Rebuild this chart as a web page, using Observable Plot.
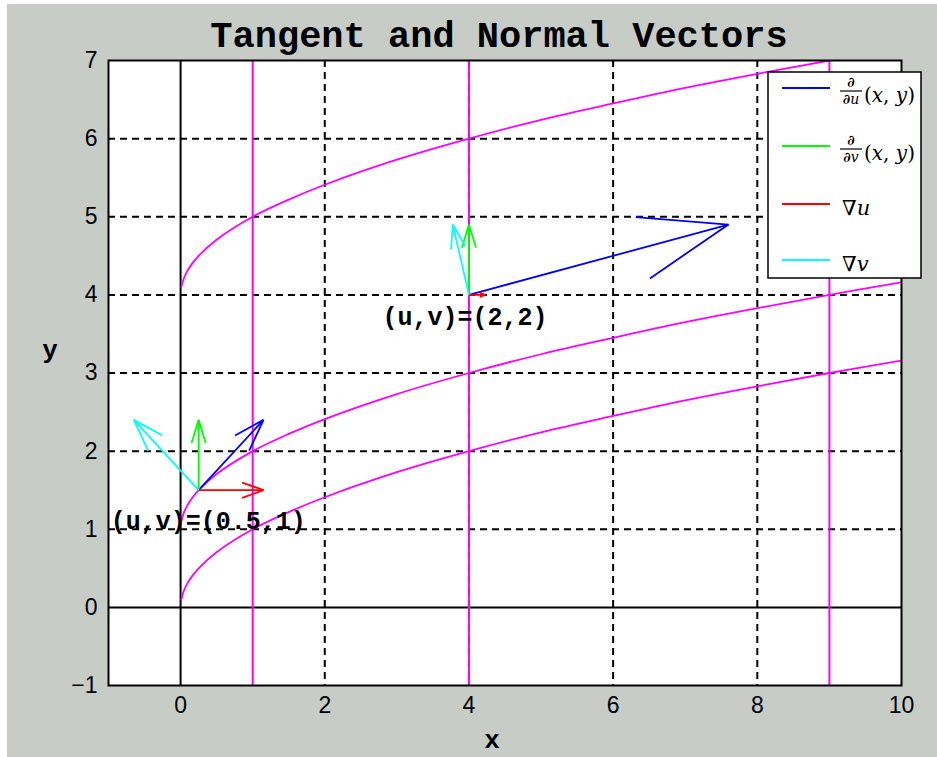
<!DOCTYPE html>
<html><head><meta charset="utf-8">
<script src="https://cdn.jsdelivr.net/npm/d3@7"></script>
<script src="https://cdn.jsdelivr.net/npm/@observablehq/plot@0.6"></script>
<style>
body{margin:0;background:#fff;} svg{display:block;}
</style>
</head><body><div id="chart"></div>
<script>
// ---- data ----
const titleText = "Tangent and Normal Vectors";
const xLabel = "x";
const yLabel = "y";
const xTicks = [0, 2, 4, 6, 8, 10];
const yTicks = [-1, 0, 1, 2, 3, 4, 5, 6, 7];
const gridX = [2, 4, 6, 8];
const gridY = [1, 2, 3, 4, 5, 6];
const zeroX = [0];
const zeroY = [0];
// constant-v curves (x, sqrt-part) and their offsets
const curveX =    [0.01, 0.04, 0.09, 0.16, 0.25, 0.49, 1, 1.5, 2, 3, 4, 5, 6, 7, 8, 9, 10];
const curveBase = [0.1, 0.2, 0.3, 0.4, 0.5, 0.7, 1, 1.22, 1.41, 1.73, 2, 2.24, 2.45, 2.65, 2.83, 3, 3.16];
const curveV = [0, 1, 4];
// constant-u lines
const uLinesX = [1, 4, 9];
// base points of the vectors
const baseX = [0.25, 4];
const baseY = [1.5, 4];
// vectors at each base point: d/du, d/dv, grad u, grad v
const vecNames = ["du", "dv", "gradu", "gradv"];
const vecColors = ["#0000ff", "#00ff00", "#ff0000", "#00ffff"];
const vecU = [[1, 0, 1, -1], [4, 0, 0.25, -0.25]];
const vecV = [[1, 1, 0, 1], [1, 1, 0, 1]];
const quiverScale = 0.9;
const headAlpha = 0.33, headBeta = 0.33;
// point labels
const pointLabels = ["(u,v)=(0.5,1)", "(u,v)=(2,2)"];
const labelX = [-0.97, 2.8];
const labelY = [1.1, 3.72];

// ---- build tables ----
const curves = [];
curveV.forEach(v => curveX.forEach((x, i) => curves.push({x, y: curveBase[i] + v, v})));

const segs = [];
baseX.forEach((bx, p) => {
  const by = baseY[p];
  vecNames.forEach((n, k) => {
    const u = vecU[p][k] * quiverScale, v = vecV[p][k] * quiverScale;
    const tx = bx + u, ty = by + v;
    const c = vecColors[k];
    segs.push({x1: bx, y1: by, x2: tx, y2: ty, c});
    segs.push({x1: tx - headAlpha * (u + headBeta * v), y1: ty - headAlpha * (v - headBeta * u), x2: tx, y2: ty, c});
    segs.push({x1: tx - headAlpha * (u - headBeta * v), y1: ty - headAlpha * (v + headBeta * u), x2: tx, y2: ty, c});
  });
});
const labels = pointLabels.map((t, i) => ({t, x: labelX[i], y: labelY[i]}));

const W = 937, H = 757;
const minus = d => d < 0 ? "\u2212" + (-d) : String(d);
const chart = Plot.plot({
  width: W, height: H,
  marginLeft: 108, marginRight: 36, marginTop: 60, marginBottom: 72,
  x: {domain: [-1, 10]},
  y: {domain: [-1, 7]},
  style: {fontFamily: "'Liberation Sans', Arial, sans-serif", fontSize: "23px", background: "transparent", color: "#000"},
  marks: [
    Plot.frame({fill: "white", stroke: null}),
    Plot.ruleX(gridX, {stroke: "#000", strokeWidth: 2, strokeDasharray: "7,5"}),
    Plot.ruleY(gridY, {stroke: "#000", strokeWidth: 2, strokeDasharray: "7,5"}),
    Plot.ruleX(zeroX, {stroke: "#000", strokeWidth: 2}),
    Plot.ruleY(zeroY, {stroke: "#000", strokeWidth: 2}),
    Plot.ruleX(uLinesX, {stroke: "#ff00ff", strokeWidth: 2}),
    Plot.line(curves, {x: "x", y: "y", z: "v", stroke: "#ff00ff", strokeWidth: 1.8, curve: "catmull-rom", clip: true}),
    Plot.link(segs, {x1: "x1", y1: "y1", x2: "x2", y2: "y2", stroke: d => d.c, strokeWidth: 1.8, clip: true}),
    Plot.text(labels, {x: "x", y: "y", text: "t", textAnchor: "start", fontFamily: "'Liberation Mono', 'Courier New', monospace", fontWeight: "bold", fontSize: 25, fill: "#000"}),
    Plot.axisX({ticks: xTicks, tickSize: 0, tickPadding: 11, label: null, fontSize: 23, tickFormat: minus}),
    Plot.axisY({ticks: yTicks, tickSize: 0, tickPadding: 11, label: null, fontSize: 23, tickFormat: minus}),
    Plot.frame({stroke: "#000", strokeWidth: 2})
  ]
});

const svg = d3.select(chart);
// figure background
svg.insert("rect", ":first-child").attr("x", 7).attr("y", 4).attr("width", W - 7).attr("height", H - 4).attr("fill", "#c8ccc7");
svg.insert("rect", ":first-child").attr("x", 0).attr("y", 0).attr("width", W).attr("height", H).attr("fill", "#fff");

const mono = "'Liberation Mono', 'Courier New', monospace";
svg.append("text").attr("x", 499).attr("y", 47).attr("text-anchor", "middle")
  .attr("font-family", mono).attr("font-weight", "bold").attr("font-size", 37).attr("fill", "#000").text(titleText);
svg.append("text").attr("x", 492).attr("y", 748).attr("text-anchor", "middle")
  .attr("font-family", mono).attr("font-weight", "bold").attr("font-size", 26).attr("fill", "#000").text(xLabel);
svg.append("text").attr("x", 50).attr("y", 358).attr("text-anchor", "middle")
  .attr("font-family", mono).attr("font-weight", "bold").attr("font-size", 26).attr("fill", "#000").text(yLabel);

// legend
const lg = svg.append("g").attr("text-anchor", "start");
lg.append("rect").attr("x", 768).attr("y", 72).attr("width", 153).attr("height", 206)
  .attr("fill", "#fff").attr("stroke", "#000").attr("stroke-width", 1.5);
const legendRowsY = [88, 146, 204, 260];
const serif = "'DejaVu Serif', 'Liberation Serif', serif";
vecNames.forEach((n, k) => {
  const y = legendRowsY[k];
  lg.append("line").attr("x1", 782).attr("x2", 830).attr("y1", y).attr("y2", y)
    .attr("stroke", vecColors[k]).attr("stroke-width", 1.8);
  if (k < 2) {
    const cx = 851;
    lg.append("text").attr("x", cx).attr("y", y - 1).attr("text-anchor", "middle")
      .attr("font-family", serif).attr("font-size", 14).attr("font-weight", "bold").text("\u2202");
    lg.append("line").attr("x1", 840).attr("x2", 862).attr("y1", y + 3).attr("y2", y + 3)
      .attr("stroke", "#000").attr("stroke-width", 1.2);
    const t = lg.append("text").attr("x", cx).attr("y", y + 16).attr("text-anchor", "middle")
      .attr("font-family", serif).attr("font-size", 14);
    t.append("tspan").attr("font-weight", "bold").text("\u2202");
    t.append("tspan").attr("font-style", "italic").text(k === 0 ? "u" : "v");
    const t2 = lg.append("text").attr("x", 864).attr("y", y + 14).attr("text-anchor", "start")
      .attr("font-family", serif).attr("font-size", 20);
    t2.append("tspan").text("(");
    t2.append("tspan").attr("font-style", "italic").text("x");
    t2.append("tspan").text(", ");
    t2.append("tspan").attr("font-style", "italic").text("y");
    t2.append("tspan").text(")");
  } else {
    const t = lg.append("text").attr("x", 842).attr("y", y + 11).attr("text-anchor", "start")
      .attr("font-family", serif).attr("font-size", 21);
    t.append("tspan").text("\u2207");
    t.append("tspan").attr("font-style", "italic").text(k === 2 ? "u" : "v");
  }
});

document.getElementById("chart").appendChild(chart);
</script>
</body></html>
